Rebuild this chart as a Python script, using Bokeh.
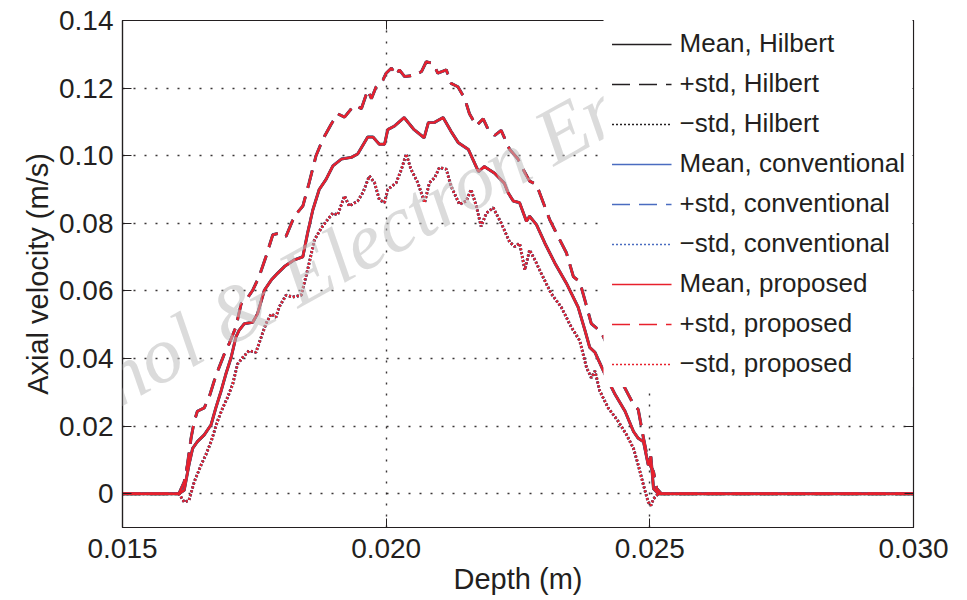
from bokeh.plotting import figure
from bokeh.models import (Range1d, LinearAxis, FixedTicker, Legend, LegendItem,
                          Label, NumeralTickFormatter, CustomJSTickFormatter)
from bokeh.embed import file_html
from bokeh.resources import INLINE

# ---- data (depth in m, axial velocity in m/s) ----
mean_depth = [0.0150, 0.01607, 0.01617, 0.01626, 0.01633, 0.01642, 0.01655, 0.01668, 0.01677, 0.01687,
              0.01696, 0.01706, 0.01715, 0.01721, 0.01731, 0.01747, 0.01756, 0.01769, 0.01782, 0.01794,
              0.01807, 0.01826, 0.01842, 0.01851, 0.01861, 0.01873, 0.01886, 0.01899, 0.01915, 0.01934,
              0.01946, 0.01965, 0.01975, 0.01987, 0.01997, 0.02003, 0.02015, 0.02034, 0.02053, 0.02072,
              0.02080, 0.02091, 0.02108, 0.02123, 0.02137, 0.02156, 0.02175, 0.02186, 0.02205, 0.02224,
              0.02231, 0.02241, 0.02253, 0.02266, 0.02272, 0.02285, 0.02301, 0.02320, 0.02342, 0.02364,
              0.02377, 0.02386, 0.02396, 0.02415, 0.02434, 0.02453, 0.02469, 0.02478, 0.02488, 0.02497,
              0.02502, 0.02507, 0.02516, 0.0300]
mean_vel = [0, 0, 0.0010, 0.0085, 0.0134, 0.0154, 0.0174, 0.0204, 0.0254, 0.0304,
            0.0354, 0.0403, 0.0463, 0.0483, 0.0503, 0.0507, 0.0532, 0.0602, 0.0632, 0.0652,
            0.0672, 0.0692, 0.0701, 0.0771, 0.0840, 0.0900, 0.0930, 0.0970, 0.0990, 0.0995,
            0.1005, 0.1055, 0.1055, 0.1034, 0.1034, 0.1077, 0.1087, 0.1113, 0.1077, 0.1053,
            0.1098, 0.1098, 0.1113, 0.1072, 0.1038, 0.1018, 0.0953, 0.0968, 0.0949, 0.0919,
            0.0891, 0.0866, 0.0861, 0.0806, 0.0821, 0.0796, 0.0741, 0.0682, 0.0622, 0.0552,
            0.0483, 0.0433, 0.0418, 0.0353, 0.0294, 0.0244, 0.0184, 0.0164, 0.0154, 0.0085,
            0.0110, 0.0015, 0, 0]

plus_depth = [0.0150, 0.01607, 0.01617, 0.01623, 0.01630, 0.01636, 0.01642, 0.01655, 0.01664, 0.01674,
              0.01683, 0.01693, 0.01702, 0.01715, 0.01725, 0.01734, 0.01747, 0.01759, 0.01772, 0.01785,
              0.01797, 0.01810, 0.01826, 0.01842, 0.01854, 0.01867, 0.01880, 0.01896, 0.01908, 0.01921,
              0.01934, 0.01943, 0.01953, 0.01965, 0.01972, 0.01981, 0.01994, 0.02000, 0.02010, 0.02019,
              0.02025, 0.02035, 0.02054, 0.02067, 0.02076, 0.02089, 0.02098, 0.02114, 0.02123, 0.02136,
              0.02149, 0.02158, 0.02171, 0.02184, 0.02193, 0.02206, 0.02218, 0.02234, 0.02250, 0.02263,
              0.02272, 0.02285, 0.02298, 0.02310, 0.02326, 0.02342, 0.02355, 0.02367, 0.02377, 0.02389,
              0.02408, 0.02421, 0.02434, 0.02446, 0.02459, 0.02469, 0.02478, 0.02488, 0.02497, 0.02507,
              0.02513, 0.02522, 0.0300]
plus_vel = [0, 0, 0.0035, 0.0085, 0.0164, 0.0214, 0.0244, 0.0254, 0.0284, 0.0334,
            0.0373, 0.0413, 0.0443, 0.0493, 0.0562, 0.0572, 0.0602, 0.0642, 0.0701, 0.0766,
            0.0771, 0.0761, 0.0821, 0.0851, 0.0920, 0.1000, 0.1049, 0.1094, 0.1124, 0.1114,
            0.1139, 0.1149, 0.1139, 0.1194, 0.1169, 0.1204, 0.1224, 0.1244, 0.1259, 0.1238,
            0.1254, 0.1234, 0.1238, 0.1249, 0.1278, 0.1273, 0.1244, 0.1254, 0.1214, 0.1204,
            0.1169, 0.1124, 0.1089, 0.1109, 0.1079, 0.1060, 0.1075, 0.1019, 0.0990, 0.0950,
            0.0925, 0.0915, 0.0861, 0.0811, 0.0761, 0.0712, 0.0642, 0.0627, 0.0572, 0.0503,
            0.0478, 0.0433, 0.0363, 0.0333, 0.0294, 0.0264, 0.0249, 0.0164, 0.0095, 0.0065,
            0.0015, 0, 0]

minus_depth = [0.0150, 0.01607, 0.01617, 0.01626, 0.01636, 0.01649, 0.01658, 0.01668, 0.01680, 0.01690,
               0.01699, 0.01709, 0.01718, 0.01728, 0.01740, 0.01753, 0.01763, 0.01772, 0.01782, 0.01791,
               0.01797, 0.01810, 0.01823, 0.01839, 0.01851, 0.01864, 0.01877, 0.01889, 0.01899, 0.01908,
               0.01921, 0.01930, 0.01946, 0.01956, 0.01968, 0.01978, 0.01987, 0.01997, 0.02003, 0.02019,
               0.02029, 0.02038, 0.02047, 0.02060, 0.02073, 0.02082, 0.02092, 0.02101, 0.02114, 0.02123,
               0.02139, 0.02152, 0.02161, 0.02171, 0.02180, 0.02190, 0.02203, 0.02218, 0.02234, 0.02244,
               0.02253, 0.02263, 0.02272, 0.02282, 0.02294, 0.02313, 0.02332, 0.02351, 0.02367, 0.02380,
               0.02389, 0.02396, 0.02405, 0.02421, 0.02440, 0.02456, 0.02469, 0.02478, 0.02488, 0.02497,
               0.02502, 0.02507, 0.02516, 0.0300]
minus_vel = [0, 0, -0.0025, -0.0020, 0.0035, 0.0085, 0.0115, 0.0154, 0.0214, 0.0254,
             0.0284, 0.0324, 0.0383, 0.0403, 0.0423, 0.0418, 0.0463, 0.0503, 0.0532, 0.0522,
             0.0552, 0.0587, 0.0582, 0.0587, 0.0662, 0.0751, 0.0786, 0.0811, 0.0830, 0.0825,
             0.0881, 0.0851, 0.0866, 0.0891, 0.0940, 0.0920, 0.0870, 0.0861, 0.0900, 0.0920,
             0.0960, 0.1005, 0.0960, 0.0920, 0.0861, 0.0920, 0.0935, 0.0965, 0.0960, 0.0910,
             0.0856, 0.0866, 0.0900, 0.0851, 0.0791, 0.0830, 0.0846, 0.0801, 0.0745, 0.0731,
             0.0741, 0.0662, 0.0721, 0.0692, 0.0652, 0.0592, 0.0552, 0.0493, 0.0453, 0.0373,
             0.0343, 0.0363, 0.0304, 0.0254, 0.0214, 0.0174, 0.0134, 0.0085, 0.0025, -0.0025,
             -0.0035, -0.0015, 0, 0]

# the three estimators coincide in the picture
methods = ["Hilbert", "conventional", "proposed"]
stats = ["Mean", "+std", "\u2212std"]

x_ticks = [0.015, 0.020, 0.025, 0.030]
y_ticks = [0, 0.02, 0.04, 0.06, 0.08, 0.10, 0.12, 0.14]

# ---- styling ----
INK = "#231f20"
FONT = "Liberation Sans"
method_color = {"Hilbert": "#231f20", "conventional": "#4a6cc0", "proposed": "#e8202c"}
method_width = {"Hilbert": 3.0, "conventional": 2.5, "proposed": 2.4}
stat_dash = {"Mean": "solid", "+std": "18 9", "\u2212std": "2 2"}

p = figure(width=967, height=600, output_backend="svg", toolbar_location=None,
           x_range=Range1d(0.015, 0.030), y_range=Range1d(-0.01, 0.14),
           min_border_left=122, min_border_right=54, min_border_top=20, min_border_bottom=73)
p.outline_line_color = INK
p.outline_line_width = 1.2
p.background_fill_color = "white"

for ax in (p.xaxis[0], p.yaxis[0]):
    ax.axis_line_color = INK
    ax.axis_line_width = 1.2
    ax.major_tick_in = 9
    ax.major_tick_out = 0
    ax.major_tick_line_color = INK
    ax.minor_tick_line_color = None
    ax.major_label_text_font = FONT
    ax.major_label_text_font_size = "28px"
    ax.major_label_text_color = INK
    ax.axis_label_text_font = FONT
    ax.axis_label_text_font_size = "29px"
    ax.axis_label_text_font_style = "normal"
    ax.axis_label_text_color = INK

p.xaxis.ticker = FixedTicker(ticks=x_ticks)
p.xaxis.formatter = NumeralTickFormatter(format="0.000")
p.xaxis.axis_label = "Depth (m)"
p.xaxis.major_label_standoff = 11
p.xaxis.axis_label_standoff = 2

p.yaxis.ticker = FixedTicker(ticks=y_ticks)
p.yaxis.formatter = NumeralTickFormatter(format="0.00")
p.yaxis.major_label_overrides = {0: "0"}
p.yaxis.axis_label = "Axial velocity (m/s)"
p.yaxis.major_label_standoff = 9
p.yaxis.axis_label_standoff = 2

blank = CustomJSTickFormatter(code="return ''")
top_ax = LinearAxis(ticker=FixedTicker(ticks=x_ticks), formatter=blank,
                    major_tick_in=9, major_tick_out=0, minor_tick_line_color=None,
                    axis_line_color=INK, major_tick_line_color=INK,
                    major_label_text_font_size="1px", major_label_standoff=0)
right_ax = LinearAxis(ticker=FixedTicker(ticks=y_ticks), formatter=blank,
                      major_tick_in=9, major_tick_out=0, minor_tick_line_color=None,
                      axis_line_color=INK, major_tick_line_color=INK,
                      major_label_text_font_size="1px", major_label_standoff=0)
p.add_layout(top_ax, "above")
p.add_layout(right_ax, "right")

for g in (p.xgrid[0], p.ygrid[0]):
    g.grid_line_color = INK
    g.grid_line_width = 1.4
    g.grid_line_dash = "2 9"
    g.grid_line_alpha = 0.9

curves = {"Mean": (mean_depth, mean_vel), "+std": (plus_depth, plus_vel),
          "\u2212std": (minus_depth, minus_vel)}

# thin copies first (they carry the legend swatches and sit under the thick lines)
items = []
for m in methods:
    for s in stats:
        xs, ys = curves[s]
        key = p.line(xs, ys, line_color=method_color[m], line_width=1.6,
                     line_dash=stat_dash[s])
        items.append(LegendItem(label=f"{s}, {m}", renderers=[key]))

for m in methods:
    for s in stats:
        xs, ys = curves[s]
        p.line(xs, ys, line_color=method_color[m], line_width=method_width[m],
               line_dash=stat_dash[s])

legend = Legend(items=items, location="top_right")
legend.label_text_font = FONT
legend.label_text_font_size = "26px"
legend.label_text_color = INK
legend.glyph_width = 60
legend.glyph_height = 30
legend.label_height = 30
legend.spacing = 9
legend.label_standoff = 8
legend.padding = 8
legend.margin = 0
legend.border_line_alpha = 0
legend.background_fill_color = "white"
legend.background_fill_alpha = 1.0
p.add_layout(legend)

# faint journal watermark overlaying the figure
wm = Label(x=0.02507, y=0.1223, text="Front Inform Technol & Electron Eng",
           text_font="Liberation Serif", text_font_style="italic", text_font_size="80px",
           text_color="#bdbdbd", text_alpha=0.55, angle=0.507,
           text_align="right", text_baseline="alphabetic", level="overlay")
p.add_layout(wm)

open("out.html", "w").write(file_html(p, INLINE))
